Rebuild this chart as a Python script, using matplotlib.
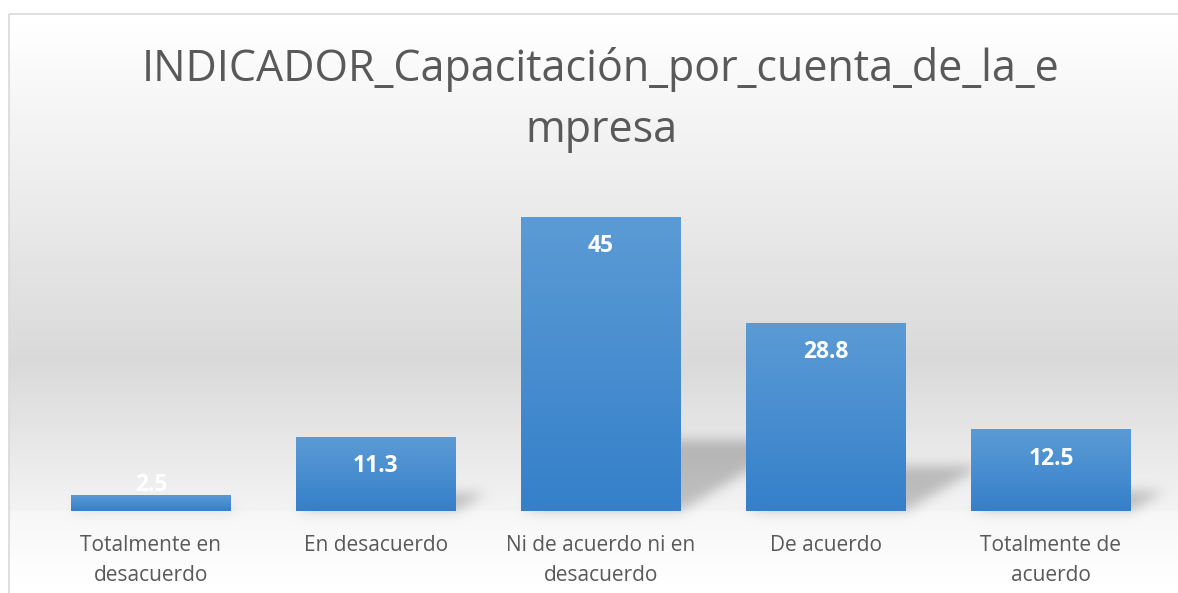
import numpy as np
import matplotlib.pyplot as plt
from matplotlib.colors import LinearSegmentedColormap
from matplotlib.patches import Rectangle
from matplotlib.path import Path

# === DATA ===
categories = ["Totalmente en\ndesacuerdo", "En desacuerdo", "Ni de acuerdo ni en\ndesacuerdo",
              "De acuerdo", "Totalmente de\nacuerdo"]
values = [2.5, 11.3, 45, 28.8, 12.5]
value_labels = ["2.5", "11.3", "45", "28.8", "12.5"]
title = "INDICADOR_Capacitación_por_cuenta_de_la_e\nmpresa"

W, H = 1178, 593
plt.rcParams['font.family'] = ['Open Sans', 'DejaVu Sans']
fig = plt.figure(figsize=(W / 100, H / 100), dpi=100)
fig.patch.set_facecolor('white')

# === BARS AXES ===
ax = fig.add_axes([38.5 / W, 1 - 511 / H, 1125 / W, (511 - 184.5) / H], zorder=1)
ax.patch.set_alpha(0)
x = np.arange(len(values))
bars = ax.bar(x, values, width=0.711, color='none', edgecolor='none')
ax.set_xlim(-0.5, len(values) - 0.5)
ax.set_ylim(0, 50)

# === BACKGROUND: gradient + soft perspective shadows ===
bg = fig.add_axes([0, 0, 1, 1], zorder=0)
bg.set_xlim(0, W)
bg.set_ylim(H, 0)
bg.axis('off')
stops_y = [0, 14, 180, 360, 510, 512, 593]
stops_c = [1.0, 1.0, 0.93, 0.85, 0.95, 0.965, 1.0]
col = np.interp(np.arange(H) + 0.5, stops_y, stops_c)
img = np.repeat(col[:, None], W, axis=1)

gx, gy = np.meshgrid(np.arange(W) + 0.5, np.arange(H) + 0.5)
pts = np.column_stack([gx.ravel(), gy.ravel()])
shadow = np.zeros(H * W)
for b in bars:
    (px0, py0), (px1, py1) = ax.transData.transform(
        [(b.get_x(), 0), (b.get_x() + b.get_width(), b.get_height())])
    base, hpx = H - py0, py1 - py0
    dy = 0.24 * hpx
    dx = dy / 0.6
    poly = Path([(px0, base), (px1, base), (px1 + dx, base - dy), (px0 + dx, base - dy)])
    shadow = np.maximum(shadow, poly.contains_points(pts))
shadow = shadow.reshape(H, W)
k = np.exp(-0.5 * (np.arange(-18, 19) / 6.0) ** 2)
k /= k.sum()
shadow = np.apply_along_axis(lambda r: np.convolve(r, k, mode='same'), 1, shadow)
shadow = np.apply_along_axis(lambda c: np.convolve(c, k, mode='same'), 0, shadow)
img = img - 0.2 * shadow
img[:14, :] = 1.0
img[:, :9] = 1.0
bg.imshow(img, cmap='gray', vmin=0, vmax=1, extent=[0, W, H, 0], aspect='auto',
          interpolation='nearest')
bg.add_patch(Rectangle((9, 14), W, H, fill=False, edgecolor='#d9d9d9', lw=1.2))

bar_cmap = LinearSegmentedColormap.from_list('b', ['#3580ca', '#5b9bd5'])
grad = np.linspace(0, 1, 100)[:, None]
for b in bars:
    x0, w, h = b.get_x(), b.get_width(), b.get_height()
    im = ax.imshow(grad, cmap=bar_cmap, origin='lower', extent=[x0, x0 + w, 0, h],
                   aspect='auto', zorder=2)
    im.set_clip_path(b)

for i, (v, lab) in enumerate(zip(values, value_labels)):
    off = -21 if v > 5 else 7
    ax.annotate(lab, (i, v), xytext=(0, off), textcoords='offset points',
                ha='center', va='center', color='white', fontsize=16.5, fontweight='bold',
                zorder=3)

ax.set_xticks(x)
ax.set_xticklabels(categories, fontsize=15, color='#595959', linespacing=1.6)
ax.tick_params(axis='x', length=0, pad=17)
ax.set_yticks([])
for s in ax.spines.values():
    s.set_visible(False)

fig.text(601 / W, 1 - 100 / H, title, ha='center', va='center', fontsize=31,
         color='#595959', linespacing=1.5)

fig.savefig('out.png', dpi=100)
